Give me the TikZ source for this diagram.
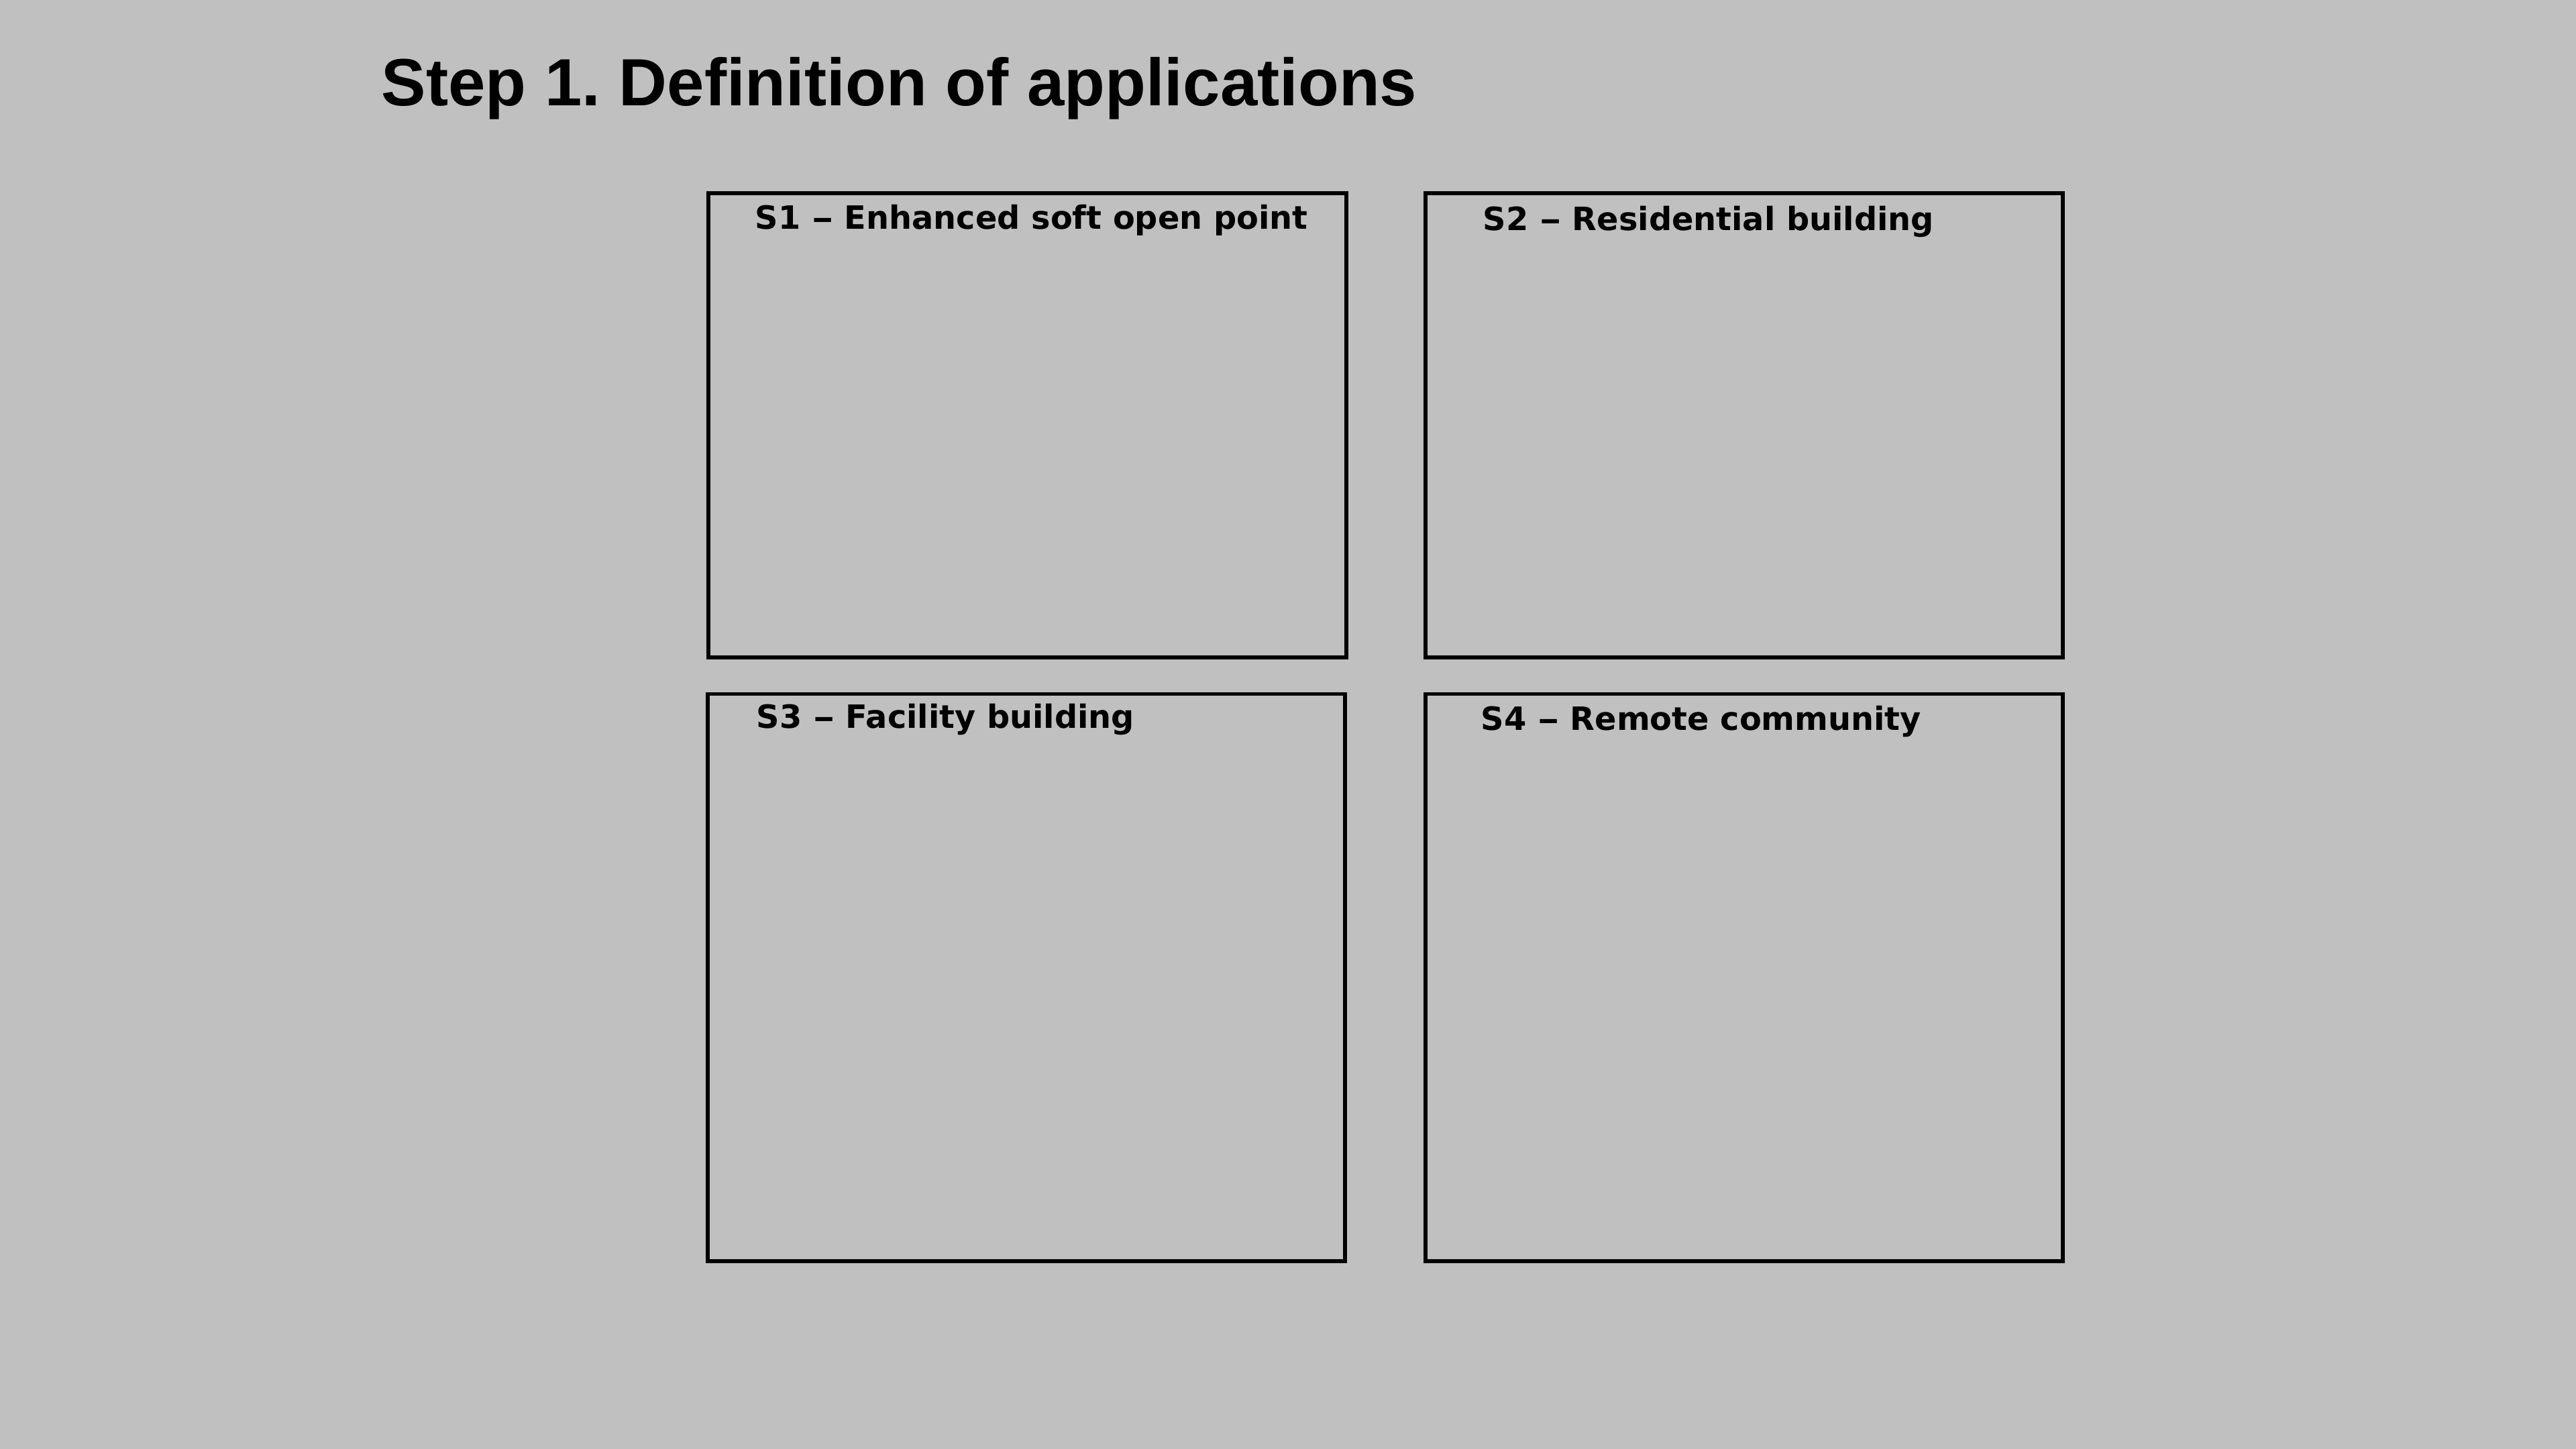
\documentclass[tikz,border=0pt]{standalone}
\usepackage{fontspec}
\setmainfont{Liberation Sans}
\newfontfamily\panelfont{DejaVu Sans}
\definecolor{canvas}{RGB}{192,192,192}
% long dash between a panel number and its name
\newcommand{\pdash}{ \scalebox{1.35}[1]{–} }
\frenchspacing
\begin{document}
\begin{tikzpicture}[x=1cm,y=1cm,
  panel/.style={draw=black, line width=1.7pt},
  paneltitle/.style={anchor=base west, inner sep=0pt, font=\panelfont\bfseries\fontsize{13.6}{16}\selectfont},
  heading/.style={anchor=base west, inner sep=0pt, font=\bfseries\fontsize{28.33}{34}\selectfont}]
  % canvas
  \fill[canvas] (0,0) rectangle (38.4,-21.6);
  \useasboundingbox (0,0) rectangle (38.4,-21.6);

  % heading
  \node[heading] (title) at (5.68,-1.58) {Step 1. Definition of applications};

  % four application panels
  \draw[panel] (10.56,-2.88) rectangle (20.065,-9.80);
  \draw[panel] (21.25,-2.88) rectangle (30.745,-9.80);
  \draw[panel] (10.545,-10.345) rectangle (20.05,-18.80);
  \draw[panel] (21.25,-10.345) rectangle (30.745,-18.80);

  % panel captions
  \node[paneltitle] (s1) at (11.25,-3.42) {S1\pdash Enhanced soft open point};
  \node[paneltitle] (s2) at (22.10,-3.44) {S2\pdash Residential building};
  \node[paneltitle] (s3) at (11.27,-10.85) {S3\pdash Facility building};
  \node[paneltitle] (s4) at (22.07,-10.88) {S4\pdash Remote community};
\end{tikzpicture}
\end{document}
